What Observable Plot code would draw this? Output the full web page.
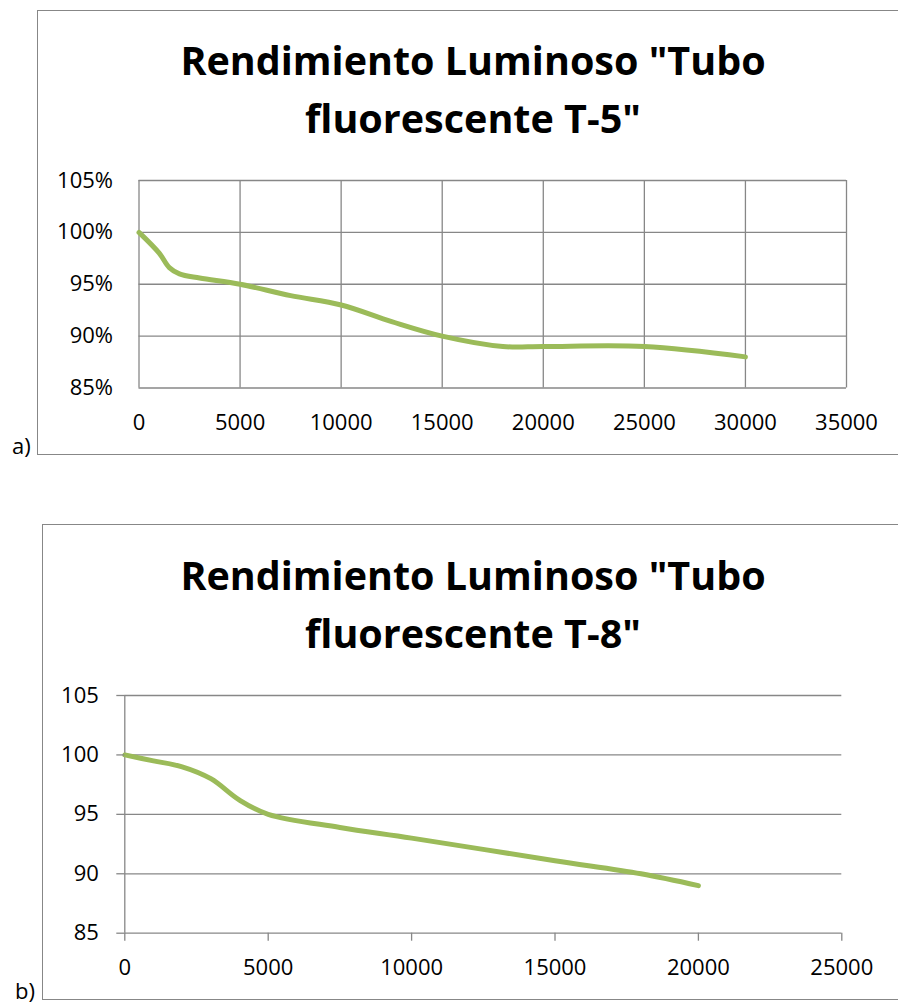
<!DOCTYPE html>
<html><head><meta charset="utf-8">
<script src="https://cdn.jsdelivr.net/npm/d3@7"></script>
<script src="https://cdn.jsdelivr.net/npm/@observablehq/plot@0.6"></script>
<style>
html,body{margin:0;padding:0;background:#fff;overflow:hidden;}
#root{position:relative;width:898px;height:1005px;font-family:"Open Sans",sans-serif;overflow:hidden;}
.box{position:absolute;border:1.3px solid #878787;box-sizing:border-box;}
.title{position:absolute;left:0;width:946px;text-align:center;font-weight:700;font-size:39.5px;line-height:58px;color:#000;white-space:nowrap;}
.lab{position:absolute;font-size:22px;line-height:22px;color:#000;}
.pl{position:absolute;left:0;}
</style></head><body><div id="root"></div>
<script>
// Chart a) data
const titleA = ['Rendimiento Luminoso "Tubo', 'fluorescente T-5"'];
const hoursA = [0, 1000, 1500, 2000, 3000, 5000, 7500, 10000, 12500, 15000, 18000, 20000, 25000, 30000];
const pctA   = [100, 98, 96.6, 96, 95.6, 95, 93.9, 93, 91.4, 90, 89, 89, 89, 88];
const xTicksA = [0, 5000, 10000, 15000, 20000, 25000, 30000, 35000];
const yTicksA = [85, 90, 95, 100, 105];

// Chart b) data
const titleB = ['Rendimiento Luminoso "Tubo', 'fluorescente T-8"'];
const hoursB = [0, 1000, 2000, 3000, 4000, 5000, 7500, 10000, 15000, 18000, 20000];
const valB   = [100, 99.5, 99, 98, 96.2, 95, 93.9, 93, 91.1, 90, 89];
const xTicksB = [0, 5000, 10000, 15000, 20000, 25000];
const yTicksB = [85, 90, 95, 100, 105];

const GRAY = "#878787";
const GREEN = "#9BBB59";
const root = document.getElementById("root");

function el(cls, css, text) {
  const d = document.createElement("div");
  d.className = cls;
  Object.assign(d.style, css);
  if (text != null) d.textContent = text;
  root.appendChild(d);
  return d;
}

const dataA = hoursA.map((h, i) => ({h, v: pctA[i]}));
const dataB = hoursB.map((h, i) => ({h, v: valB[i]}));

const plotA = Plot.plot({
  width: 898, height: 460,
  marginLeft: 138.5, marginRight: 52, marginTop: 180, marginBottom: 72.5,
  x: {domain: [0, 35000]},
  y: {domain: [85, 105]},
  style: {fontFamily: "Open Sans", fontSize: "22px", color: "#000", background: "transparent", overflow: "visible"},
  marks: [
    Plot.gridX(xTicksA, {stroke: GRAY, strokeOpacity: 1, strokeWidth: 1.3}),
    Plot.gridY(yTicksA, {stroke: GRAY, strokeOpacity: 1, strokeWidth: 1.3}),
    Plot.line(dataA, {x: "h", y: "v", stroke: GREEN, strokeWidth: 5, curve: "catmull-rom", strokeLinecap: "round"}),
    Plot.axisX(xTicksA, {tickSize: 0, tickPadding: 26, label: null, tickFormat: d => String(d)}),
    Plot.axisY(yTicksA, {tickSize: 0, tickPadding: 26, label: null, tickFormat: d => d + "%"})
  ]
});
plotA.classList.add("pl");
plotA.style.top = "0px";
root.appendChild(plotA);

const plotB = Plot.plot({
  width: 898, height: 520,
  marginLeft: 124.3, marginRight: 56.7, marginTop: 215, marginBottom: 67.3,
  x: {domain: [0, 25000]},
  y: {domain: [85, 105]},
  style: {fontFamily: "Open Sans", fontSize: "22px", color: "#000", background: "transparent", overflow: "visible"},
  marks: [
    Plot.gridY(yTicksB, {stroke: GRAY, strokeOpacity: 1, strokeWidth: 1.3}),
    Plot.ruleX([0], {stroke: GRAY, strokeWidth: 1.3}),
    Plot.line(dataB, {x: "h", y: "v", stroke: GREEN, strokeWidth: 5, curve: "catmull-rom", strokeLinecap: "round"}),
    Plot.axisX(xTicksB, {tickSize: 8, tickPadding: 18, stroke: GRAY, strokeWidth: 1.3, label: null, tickFormat: d => String(d)}),
    Plot.axisY(yTicksB, {tickSize: 8, tickPadding: 18, stroke: GRAY, strokeWidth: 1.3, label: null, tickFormat: d => String(d)})
  ]
});
plotB.classList.add("pl");
plotB.style.top = "480px";
root.appendChild(plotB);

// boxes
el("box", {left: "37px", top: "10px", width: "880px", height: "445px"});
el("box", {left: "41.7px", top: "524px", width: "880px", height: "476px"});

// titles
el("title", {top: "30.7px"}, titleA[0]);
el("title", {top: "88.7px"}, titleA[1]);
el("title", {top: "545.7px"}, titleB[0]);
el("title", {top: "603.7px"}, titleB[1]);

// panel labels
el("lab", {left: "12px", top: "434px"}, "a)");
el("lab", {left: "15px", top: "979px"}, "b)");
</script></body></html>
